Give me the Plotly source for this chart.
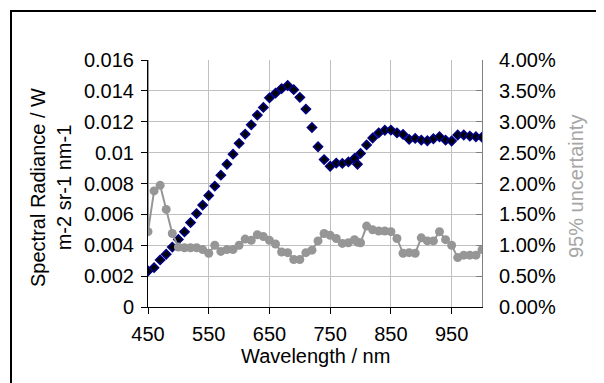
import plotly.graph_objects as go

# Wavelengths (nm)
wavelength = [450, 460, 470, 480, 490, 500, 510, 520, 530, 540,
              550, 560, 570, 580, 590, 600, 610, 620, 630, 640,
              650, 660, 670, 680, 690, 700, 710, 720, 730, 740,
              750, 760, 770, 780, 790, 795, 800, 810, 820, 830,
              840, 850, 860, 870, 880, 890, 900, 910, 920, 930,
              940, 950, 960, 970, 980, 990, 1000]

# Spectral radiance, in units of 0.001 W m-2 sr-1 nm-1
radiance_milli = [2.33, 2.55, 3.05, 3.42, 3.88, 4.38, 4.87, 5.47, 6.05, 6.60,
                  7.22, 7.83, 8.54, 9.25, 9.90, 10.60, 11.20, 11.80, 12.43, 12.93,
                  13.55, 13.85, 14.15, 14.35, 14.08, 13.58, 12.82, 11.63, 10.38, 9.55,
                  9.12, 9.32, 9.30, 9.40, 9.62, 9.25, 9.95, 10.50, 10.95, 11.28,
                  11.45, 11.46, 11.28, 11.18, 10.86, 10.92, 10.81, 10.77, 10.90, 11.03,
                  10.81, 10.75, 11.14, 11.14, 11.07, 11.03, 11.00]

# 95% uncertainty (%), the leading off-scale point first
unc_lead_wavelength = [450]
unc_lead_pct = [8.0]
uncertainty_pct = [1.22, 1.88, 1.97, 1.58, 1.19, 0.97, 0.96, 0.96, 0.96, 0.93,
                   0.87, 1.00, 0.90, 0.93, 0.93, 1.00, 1.10, 1.08, 1.17, 1.14,
                   1.08, 1.02, 0.89, 0.88, 0.77, 0.77, 0.88, 0.92, 1.07, 1.19,
                   1.16, 1.11, 1.03, 1.04, 1.09, 1.05, 1.04, 1.31, 1.25, 1.23,
                   1.23, 1.22, 1.11, 0.87, 0.88, 0.87, 1.12, 1.07, 1.07, 1.22,
                   1.09, 1.00, 0.80, 0.84, 0.84, 0.84, 0.93]

left_tickvals = [0, 0.002, 0.004, 0.006, 0.008, 0.01, 0.012, 0.014, 0.016]
left_ticktext = ["0", "0.002", "0.004", "0.006", "0.008", "0.01", "0.012", "0.014", "0.016"]
x_tickvals = [450, 550, 650, 750, 850, 950]

radiance = [v / 1000 for v in radiance_milli]
unc_x = unc_lead_wavelength + wavelength
unc_y = [p / 100 for p in unc_lead_pct + uncertainty_pct]

FONT = "Liberation Sans, Arial, sans-serif"
GRID = "#c0c0c0"
GRAY = "#969696"

fig = go.Figure()
fig.add_trace(go.Scatter(
    x=wavelength, y=radiance, mode="markers", yaxis="y",
    marker=dict(symbol="diamond", size=7, color="black",
                line=dict(color="#000080", width=1.6)),
    showlegend=False))
fig.add_trace(go.Scatter(
    x=unc_x, y=unc_y, mode="lines+markers", yaxis="y2",
    line=dict(color=GRAY, width=2),
    marker=dict(symbol="circle", size=9, color=GRAY),
    showlegend=False))

# the page body adds an 8px offset; lay the figure out in window pixels
OFF = 8
W, H = 604 - OFF, 383 - OFF
PL, PR, PT, PB = 148, 482, 60, 307  # plot area in window pixels
L, T = PL - OFF, PT - OFF
R, B = W - (PR - OFF), H - (PB - OFF)
pw, ph = W - L - R, H - T - B

def px(xp):
    return (xp - OFF - L) / pw

def py(yp):
    return (H - B - (yp - OFF)) / ph

fig.update_layout(
    width=W, height=H,
    margin=dict(l=L, r=R, t=T, b=B, pad=0),
    paper_bgcolor="white", plot_bgcolor="white",
    font=dict(family=FONT, size=20, color="black"),
    xaxis=dict(range=[450, 1000], tickvals=x_tickvals, showgrid=True,
               gridcolor=GRID, gridwidth=1, zeroline=False,
               showline=True, linecolor="black", linewidth=1,
               ticks="outside", ticklen=6, tickcolor="black",
               ticklabelstandoff=3,
               tickfont=dict(size=20, family=FONT)),
    yaxis=dict(range=[0, 0.016], tickvals=left_tickvals, ticktext=left_ticktext,
               showgrid=True, gridcolor=GRID, gridwidth=1, zeroline=False,
               showline=True, linecolor="black", linewidth=1,
               ticks="outside", ticklen=6, tickcolor="black",
               ticklabelstandoff=3,
               tickfont=dict(size=20, family=FONT)),
    yaxis2=dict(range=[0, 0.04], dtick=0.005, tick0=0, tickformat=".2%",
                overlaying="y", side="right", showgrid=False, zeroline=False,
                showline=True, linecolor="#808080", linewidth=1,
                ticks="inside", ticklen=6, tickcolor="#808080",
                ticklabelstandoff=12,
                tickfont=dict(size=20, family=FONT)),
    annotations=[
        dict(text="Spectral Radiance / W<br>m-2 sr-1 nm-1", textangle=-90,
             xref="paper", yref="paper", x=px(51), y=py(188),
             xanchor="center", yanchor="middle", showarrow=False,
             font=dict(size=20, family=FONT, color="black")),
        dict(text="95% uncertainty", textangle=-90,
             xref="paper", yref="paper", x=px(576), y=py(187),
             xanchor="center", yanchor="middle", showarrow=False,
             font=dict(size=20, family=FONT, color="#a6a6a6")),
        dict(text="Wavelength / nm",
             xref="paper", yref="paper", x=px(315), y=py(356),
             xanchor="center", yanchor="middle", showarrow=False,
             font=dict(size=20, family=FONT, color="black")),
    ],
    shapes=[
        dict(type="rect", xref="paper", yref="paper",
             x0=px(11), x1=px(607), y0=py(400), y1=py(11),
             line=dict(color="black", width=2), layer="below"),
    ],
)

fig.write_html("out.html")
